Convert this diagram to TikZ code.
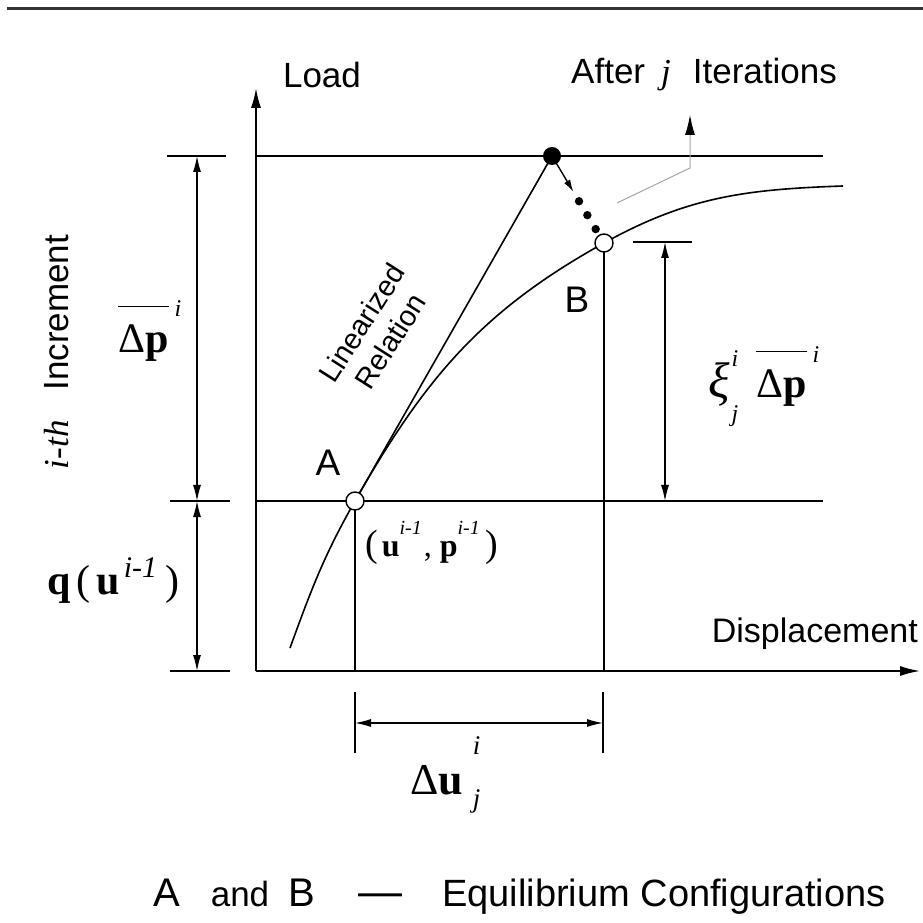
\documentclass[tikz,border=0pt]{standalone}
\usepackage{fontspec}
\setmainfont{Liberation Sans}
\newfontfamily\tms{Liberation Serif}
\usetikzlibrary{arrows.meta,positioning,calc}

\newcommand{\fs}[1]{\fontsize{#1}{#1}\selectfont}
\newcommand{\supi}[3][24]{\raisebox{#2}{\fs{#1}\itshape #3}}
\newcommand{\barDp}{\vbox{\hrule height 1.6pt\kern 18pt\hbox{Δ\textbf{p}}}}

\begin{document}
\begin{tikzpicture}[x=1pt,y=1pt,
line/.style={line width=1.6pt},
dimline/.style={line width=1.2pt},
axis/.style={line width=1.8pt,-{Latex[length=20pt,width=10pt]}},
dim/.style={line width=1.2pt,{Latex[length=16pt,width=8pt]}-{Latex[length=16pt,width=8pt]}},
lbl/.style={inner sep=0pt,font=\fs{35}},
state/.style={circle,draw,line width=1.4pt,fill=white,minimum size=18pt,inner sep=0pt}
]
\useasboundingbox (0,0) rectangle (923,922);
\draw[line width=3pt,black!80] (7,913) -- (923,913);

% axes
\coordinate (O) at (256,251);
\coordinate (ytop) at (256,834);
\coordinate (xend) at (920,251);
\draw[axis] (O) -- (ytop);
\draw[axis] (O) -- (xend);

% load levels
\coordinate (pA) at (355,421);
\coordinate (pB) at (604,679);
\coordinate (pP) at (552,766);
\coordinate (top1) at (823,766);
\coordinate (mid1) at (823,421);
\draw[line] (pP -| O) -- (top1);
\draw[line] (pA -| O) -- (mid1);
\draw[line] (pA) -- (pA |- O);
\draw[line] (pB) -- (pB |- O);

% curve and linearized relation
\coordinate (c0) at (290,274);
\coordinate (c1) at (843,736);
\draw[line] (c0) to[out=70,in=240.3] (pA) to[out=60.3,in=209] (pB) to[out=29,in=182] (c1);
\draw[line] (pA) -- (pP);

% iterations
\coordinate (it) at ($(pP)!0.41!(pB)$);
\draw[line width=1.4pt,-{Latex[length=12pt,width=7pt]}] (pP) -- (it);
\foreach \t in {0.52,0.68,0.84}
  \fill ($(pP)!\t!(pB)$) circle (4.2pt);
\node[circle,fill,minimum size=18pt,inner sep=0pt] (P) at (pP) {};
\node[state] (A) at (pA) {};
\node[state] (B) at (pB) {};

% leader
\coordinate (ld0) at (617,719);
\coordinate (ld1) at (690,754);
\coordinate (ld2) at (690,807);
\draw[gray!70,line width=1pt,-{Latex[length=20pt,width=10pt,color=black]}] (ld0) -- (ld1) -- (ld2);

% dimensions, left
\coordinate (dT) at (197,766);
\coordinate (dM) at (197,421);
\coordinate (dB) at (197,251);
\draw[dimline] ([xshift=-30]dT) -- ([xshift=29]dT);
\draw[dimline] ([xshift=-27]dM) -- ([xshift=33]dM);
\draw[dimline] ([xshift=-27]dB) -- ([xshift=33]dB);
\draw[dim] (dM) -- (dT);
\draw[dim] (dB) -- (dM);

% dimension, right
\coordinate (rT) at (665,680);
\coordinate (rM) at (665,421);
\draw[dimline] ([xshift=-32]rT) -- ([xshift=27]rT);
\draw[dim] (rM) -- (rT);

% dimension, bottom
\coordinate (uL) at (355,199);
\coordinate (uR) at (603,199);
\draw[dimline] ([yshift=31]uL) -- ([yshift=-30]uL);
\draw[dimline] ([yshift=31]uR) -- ([yshift=-30]uR);
\draw[dim] (uL) -- (uR);

% labels
\node[lbl] (load) at (322,847) {Load};
\node[lbl] (after) at (704,847) {After\hspace{16pt}{\tms\itshape j}\hspace{22pt}Iterations};
\node[lbl,anchor=east,font=\fs{34}] (disp) at (918,288) {Displacement};
\node[lbl,rotate=90] (incr) at (57,570) {{\tms\itshape i-th}\hspace{30pt}Increment};
\node[inner sep=0pt,rotate=57.5,align=center,font=\fontsize{29}{34}\selectfont] (linrel) at (376,590) {Linearized\\Relation};
\node[inner sep=0pt,font=\fs{37}] (labA) at (328,459) {A};
\node[inner sep=0pt,font=\fs{37}] (labB) at (577,622) {B};
\node[inner sep=0pt,anchor=base west,font=\tms\fs{32}] (uplab) at (365,366)
  {{\fs{38}(}\hspace{4pt}\textbf{u}\supi[20]{22pt}{i-1}\hspace{2pt},\hspace{8pt}\textbf{p}\supi[20]{22pt}{i-1}\hspace{6pt}{\fs{38})}};
\node[inner sep=0pt,anchor=base west,font=\tms\fs{42}] (qlab) at (47,328)
  {\textbf{q}\hspace{6pt}(\hspace{6pt}\textbf{u}\hspace{4pt}\supi[30]{17pt}{i-1}\hspace{8pt})};
\node[inner sep=0pt,anchor=base west,font=\tms\fs{42}] (dplab) at (118,569)
  {\barDp\hspace{6pt}\supi{36pt}{i}};
\node[inner sep=0pt,anchor=base west,font=\tms\fs{42}] (xilab) at (708,524)
  {{\fs{50}\itshape ξ}\hspace{2pt}\rlap{\supi{31pt}{i}}\supi{-24pt}{j}\hspace{18pt}\barDp\hspace{6pt}\supi{35pt}{i}};
\node[inner sep=0pt,anchor=base west,font=\tms\fs{44}] (dulab) at (410,128)
  {Δ\textbf{u}\hspace{10pt}\rlap{\supi[27]{40pt}{i}}\supi[27]{-13pt}{j}};

% key
\node[inner sep=0pt,anchor=base,font=\fs{40}] (keyA) at (167,16) {A};
\node[inner sep=0pt,anchor=base,font=\fs{35}] (keyand) at (240,16) {and};
\node[inner sep=0pt,anchor=base,font=\fs{40}] (keyB) at (302,16) {B};
\node[inner sep=0pt,anchor=base,font=\fs{44}] (keydash) at (380,16) {—};
\node[inner sep=0pt,anchor=base west,font=\fs{38}] (keytxt) at (442,16) {Equilibrium Configurations};
\end{tikzpicture}
\end{document}
